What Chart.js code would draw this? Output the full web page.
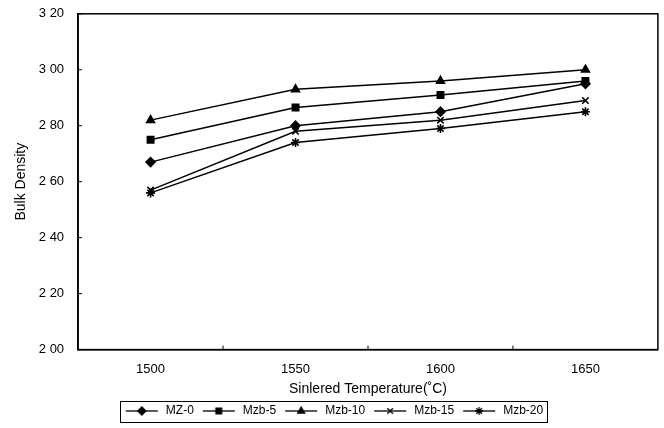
<!DOCTYPE html>
<html lang="en">
<head>
    <meta charset="UTF-8">
    <title>Bulk Density</title>
    <script src="https://cdn.jsdelivr.net/npm/chart.js"></script>
</head>
<style>
    html, body { margin: 0; padding: 0; background: #fff; }
    #wrap { width: 664px; height: 428px; }
</style>
<body>
    <div id="wrap"><canvas id="densityChart"></canvas></div>
    <script>
        var temperatures = ['1500', '1550', '1600', '1650'];
        var seriesNames = ['MZ-0', 'Mzb-5', 'Mzb-10', 'Mzb-15', 'Mzb-20'];
        var mz0 = [2.67, 2.80, 2.85, 2.95];
        var mzb5 = [2.75, 2.865, 2.91, 2.96];
        var mzb10 = [2.82, 2.93, 2.96, 3.00];
        var mzb15 = [2.57, 2.78, 2.82, 2.89];
        var mzb20 = [2.56, 2.74, 2.79, 2.85];
        var markers = ['rectRot', 'rect', 'triangle', 'crossRot', 'star'];
        var yMin = 2.0, yMax = 3.2, yStep = 0.2;

        var fontFamily = '"Liberation Sans", Arial, sans-serif';

        function legendIcon(style) {
            var c = document.createElement('canvas');
            c.width = 36; c.height = 12;
            var g = c.getContext('2d');
            g.strokeStyle = '#000';
            g.fillStyle = '#000';
            g.lineWidth = 1.3;
            g.beginPath(); g.moveTo(2, 6); g.lineTo(34, 6); g.stroke();
            Chart.helpers.drawPoint(g, { pointStyle: style, radius: 4, borderWidth: 1.6, rotation: 0 }, 18, 6);
            return c;
        }

        // inward tick marks, full frame round the plot, box round the legend items
        var frame = {
            id: 'frame',
            afterDraw: function (chart) {
                var ctx = chart.ctx, a = chart.chartArea;
                var x = chart.scales.x, y = chart.scales.y;
                ctx.save();
                ctx.strokeStyle = '#000';
                ctx.lineWidth = 1.5;
                ctx.strokeRect(a.left, a.top, a.right - a.left, a.bottom - a.top);
                ctx.lineWidth = 1;
                for (var v = yMin; v <= yMax + 1e-9; v += yStep) {
                    var py = y.getPixelForValue(v);
                    ctx.beginPath(); ctx.moveTo(a.left, py); ctx.lineTo(a.left + 4, py); ctx.stroke();
                }
                for (var i = 0; i < temperatures.length - 1; i++) {
                    var px = (x.getPixelForValue(i) + x.getPixelForValue(i + 1)) / 2;
                    ctx.beginPath(); ctx.moveTo(px, a.bottom); ctx.lineTo(px, a.bottom - 4); ctx.stroke();
                }
                var boxes = chart.legend.legendHitBoxes;
                if (boxes && boxes.length) {
                    var l = boxes[0].left, r = boxes[0].left + boxes[0].width;
                    var t = boxes[0].top, b = boxes[0].top + boxes[0].height;
                    boxes.forEach(function (h) {
                        l = Math.min(l, h.left); r = Math.max(r, h.left + h.width);
                        t = Math.min(t, h.top); b = Math.max(b, h.top + h.height);
                    });
                    ctx.lineWidth = 1;
                    ctx.strokeRect(Math.round(l - 4) + 0.5, Math.round(t - 4) + 0.5, Math.round(r - l + 8), Math.round(b - t + 9));
                }
                ctx.restore();
            }
        };

        var allData = [mz0, mzb5, mzb10, mzb15, mzb20];
        var datasets = allData.map(function (d, i) {
            return {
                label: seriesNames[i],
                data: d,
                borderColor: '#000',
                backgroundColor: '#000',
                borderWidth: 1.5,
                pointStyle: markers[i],
                pointRadius: 4.5,
                pointBorderWidth: 1.6,
                tension: 0
            };
        });

        new Chart(document.getElementById('densityChart'), {
            type: 'line',
            data: { labels: temperatures, datasets: datasets },
            plugins: [frame],
            options: {
                responsive: true,
                maintainAspectRatio: false,
                animation: false,
                layout: { padding: { top: 0, right: 6, left: 9, bottom: 1 } },
                plugins: {
                    tooltip: { enabled: false },
                    legend: {
                        position: 'bottom',
                        labels: {
                            usePointStyle: true,
                            pointStyleWidth: 36,
                            color: '#000',
                            padding: 7,
                            font: { family: fontFamily, size: 12 },
                            generateLabels: function (chart) {
                                return chart.data.datasets.map(function (ds, i) {
                                    return {
                                        text: ds.label,
                                        pointStyle: legendIcon(markers[i]),
                                        fillStyle: '#000',
                                        strokeStyle: '#000',
                                        lineWidth: 0,
                                        fontColor: '#000',
                                        datasetIndex: i
                                    };
                                });
                            }
                        }
                    }
                },
                scales: {
                    x: {
                        offset: true,
                        grid: { display: false },
                        border: { display: true, color: '#000', width: 1.5 },
                        ticks: { color: '#000', font: { family: fontFamily, size: 13 }, padding: 4 },
                        title: {
                            display: true,
                            text: 'Sinlered Temperature(˚C)',
                            color: '#000',
                            font: { family: fontFamily, size: 14 },
                            padding: { top: 0, bottom: 0 }
                        }
                    },
                    y: {
                        min: yMin,
                        max: yMax,
                        grid: { display: false },
                        border: { display: true, color: '#000', width: 1.5 },
                        ticks: {
                            stepSize: yStep,
                            color: '#000',
                            padding: 6,
                            font: { family: fontFamily, size: 13 },
                            callback: function (v) { return v.toFixed(2).replace('.', ' '); }
                        },
                        title: {
                            display: true,
                            text: 'Bulk Density',
                            color: '#000',
                            font: { family: fontFamily, size: 14 },
                            padding: { bottom: 3 }
                        }
                    }
                }
            }
        });
    </script>
</body>
</html>
